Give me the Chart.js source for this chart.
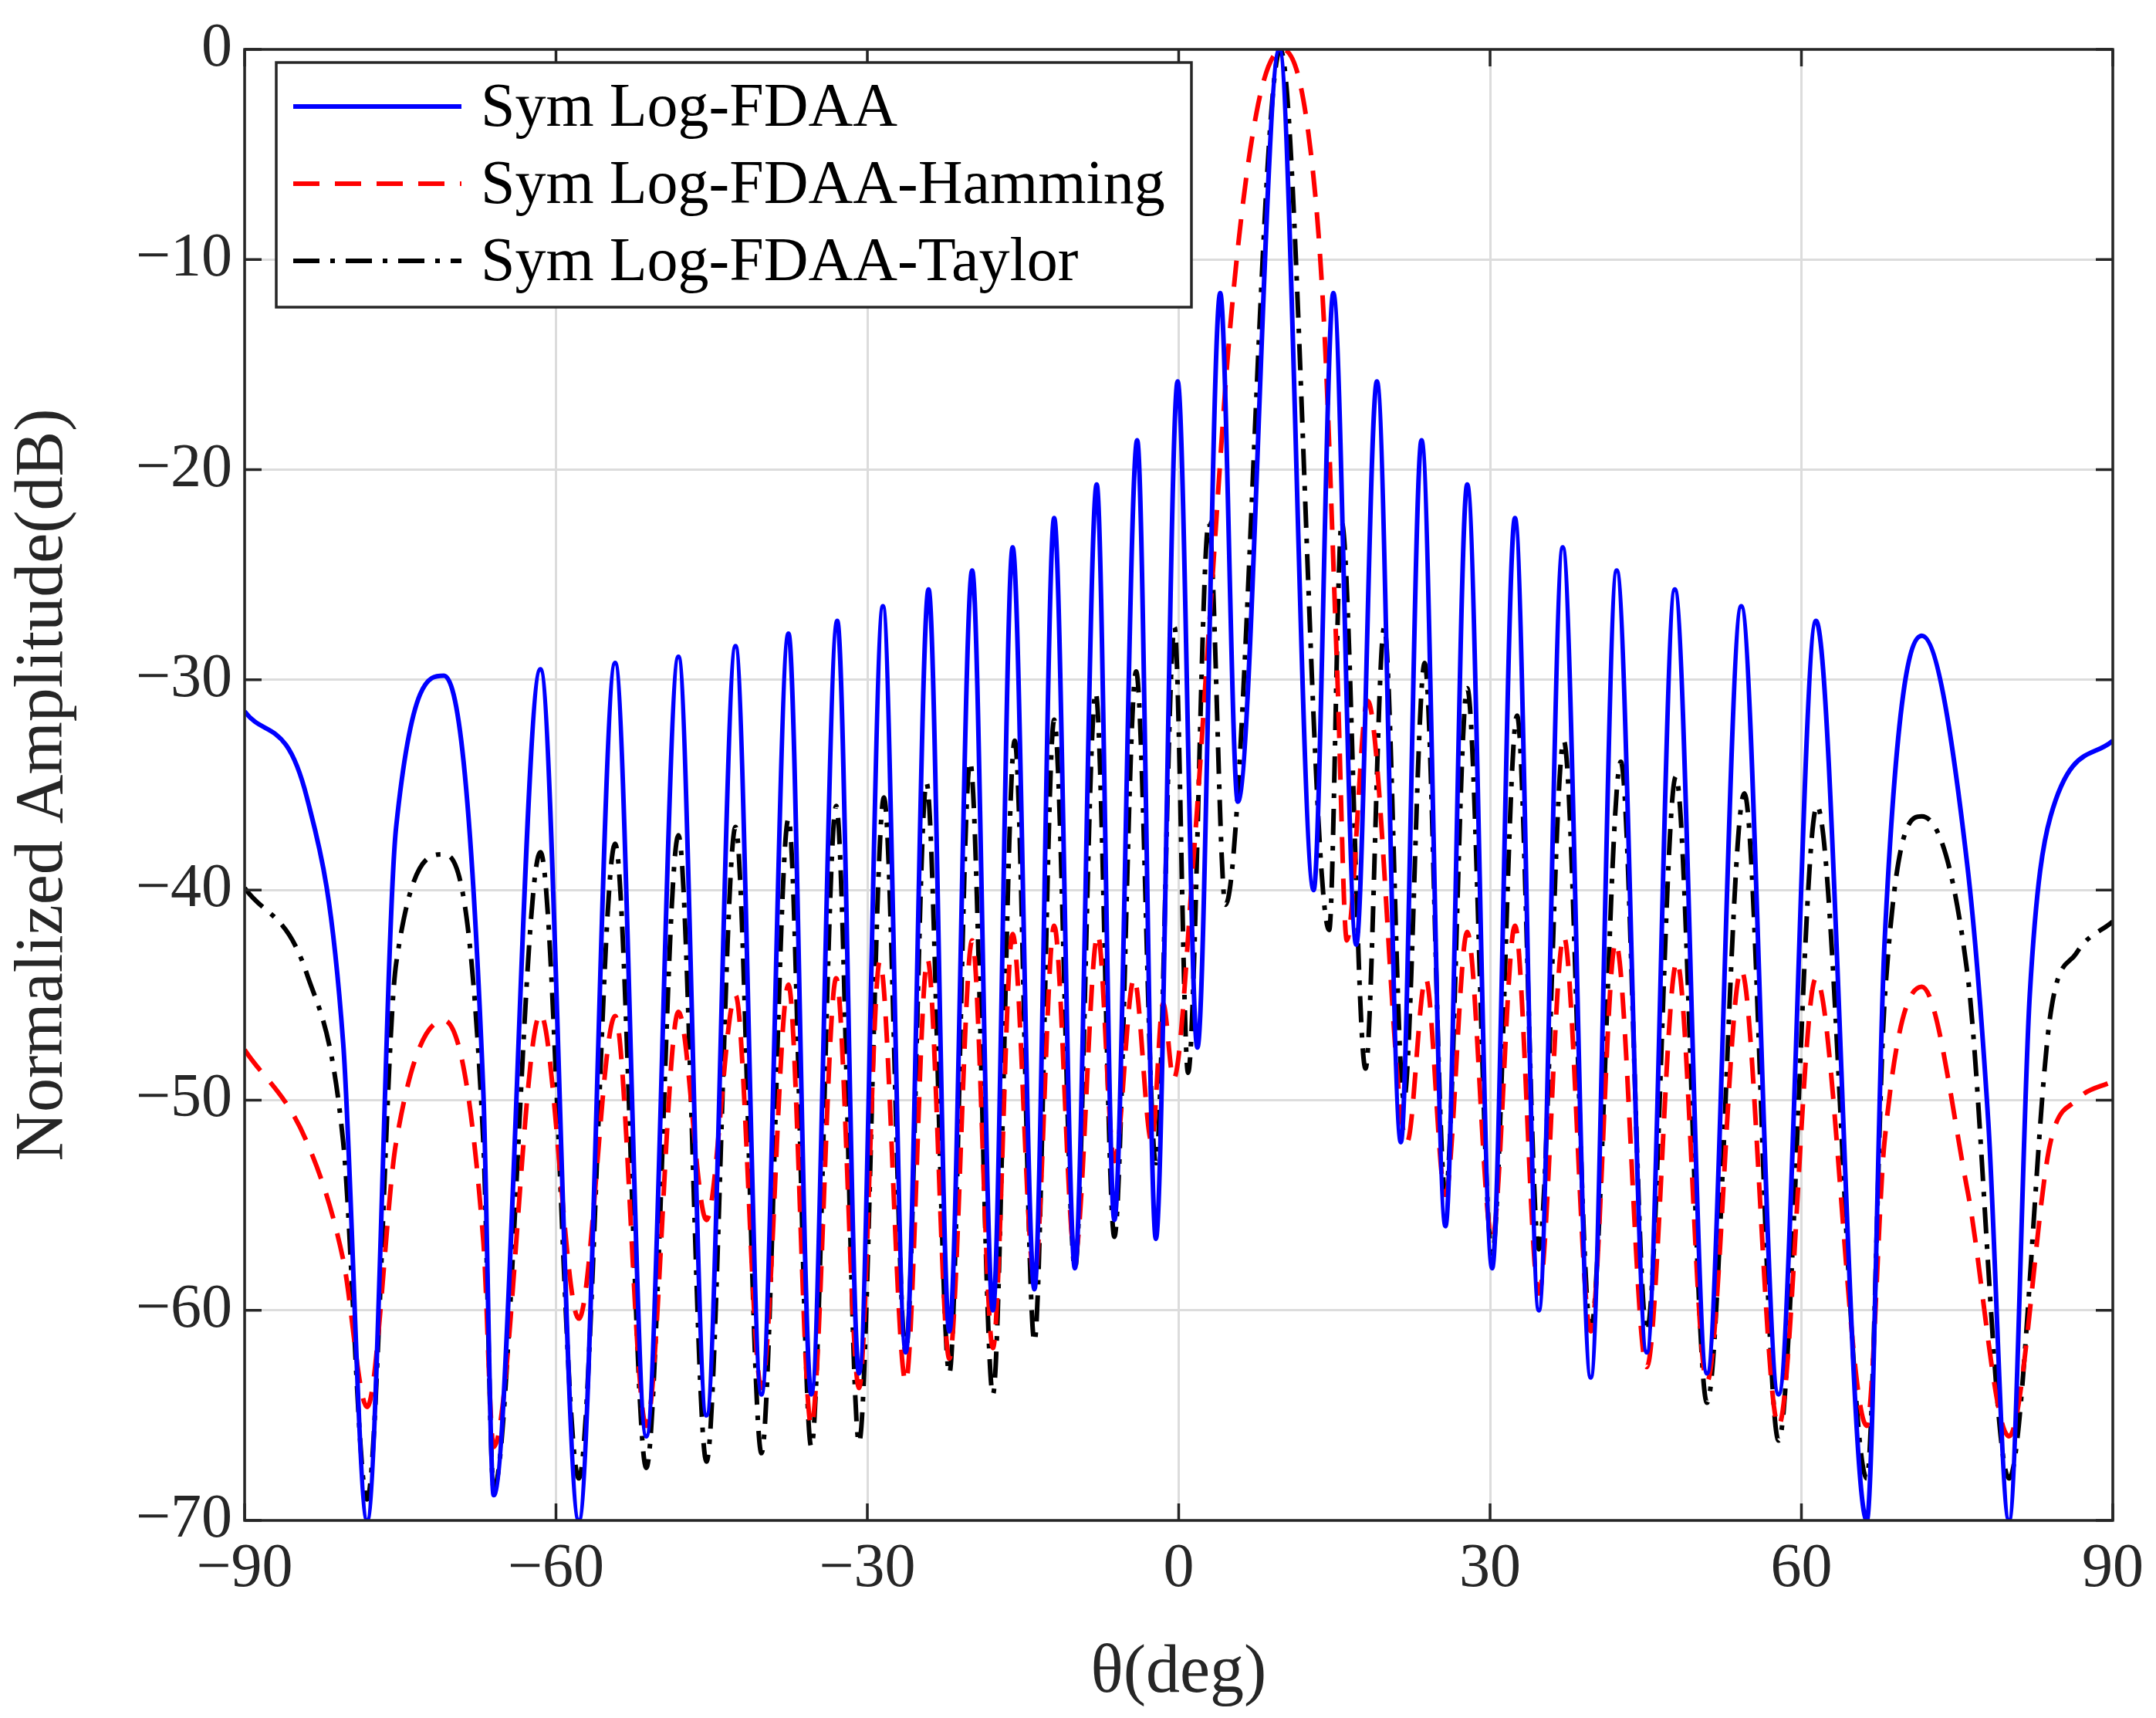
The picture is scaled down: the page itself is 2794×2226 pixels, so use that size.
<!DOCTYPE html>
<html>
<head>
<meta charset="utf-8">
<script src="https://cdn.jsdelivr.net/npm/chart.js@4"></script>
<style>
  body { margin: 0; background: #fff; }
  canvas { display: block; }
</style>
</head>
<body>
<canvas id="chart" width="2794" height="2226"></canvas>
<script>
// values (peaks, nulls and a few shoulders of each pattern)
const blueX = [-90,-84,-80.5,-78.2,-75.4,-70.8,-67,-66.0,-61.5,-57.8,-54.3,-51.3,-48.2,-45.5,-42.7,-40.2,-37.6,-35.4,-32.9,-30.8,-28.5,-26.3,-24.1,-22.1,-19.9,-17.9,-16.0,-13.9,-12.0,-10.0,-7.9,-6.2,-4.0,-2.2,-0.1,1.8,4.0,5.7,9.7,13.0,14.9,17.1,19.1,21.4,23.4,25.7,27.8,30.2,32.4,34.7,37.0,39.7,42.2,45.1,47.8,50.9,54.2,57.8,61.4,66.3,68,71.6,76,78,80,82,84,90];
const blueY = [-31.5,-35.6,-47.3,-70,-37,-29.8,-49.6,-68.8,-29.5,-70,-29.2,-66,-28.9,-65,-28.4,-64,-27.8,-64,-27.2,-63,-26.5,-62,-25.7,-61,-24.8,-60,-23.7,-59,-22.3,-58,-20.7,-55.7,-18.6,-56.6,-15.8,-47.5,-11.6,-35.8,0,-40,-11.6,-42.6,-15.8,-52,-18.6,-56,-20.7,-58,-22.3,-60,-23.7,-63.2,-24.8,-62,-25.7,-63,-26.5,-64,-27.2,-70,-42.6,-27.9,-38.9,-51,-70,-45,-36.5,-32.9];

const redX = [-90,-84,-80.5,-78.2,-75.4,-70.8,-67,-66,-61.5,-57.8,-54.3,-51.3,-48.2,-45.5,-42.7,-40.2,-37.6,-35.4,-33.0,-30.8,-28.8,-26.3,-24.2,-22.1,-19.9,-17.9,-16.0,-13.9,-12.0,-10.0,-7.8,-6.2,-4.3,-2.6,-1.5,-0.5,1.5,3,5,7.5,10,12.5,14,15.3,16.2,18.2,22.0,23.8,25.7,27.8,30.2,32.4,34.7,37.1,39.7,42.1,45.1,48.0,50.9,54.2,57.8,61.4,66.3,68,71.6,76,80,84,86.5,90];
const redY = [-47.6,-52,-57.6,-64.6,-52,-46.2,-56.7,-66.5,-45.9,-60.4,-46.0,-65.5,-45.8,-55.7,-45.0,-63.7,-44.5,-65.5,-44.2,-63.7,-43.4,-63.4,-43.3,-62.3,-42.4,-61.8,-42.1,-58.5,-41.7,-57.4,-42.1,-52.9,-44.2,-52,-45.4,-49,-38,-27,-13,-3,0,-4,-13,-30,-42.4,-31,-52,-44.2,-54.5,-42.0,-56.6,-41.7,-59.2,-42.2,-61,-42.5,-62.7,-43.4,-63.4,-43.8,-65.5,-44.2,-65.5,-52,-44.6,-54.3,-66,-52,-50,-49.1];

const blackX = [-90,-84,-80.5,-78.2,-75.4,-70.8,-67,-66,-61.5,-57.8,-54.3,-51.3,-48.2,-45.5,-42.7,-40.2,-37.6,-35.4,-33.0,-30.8,-28.4,-26.3,-24.3,-22.1,-20.1,-17.9,-15.8,-13.9,-12.0,-10.0,-8.0,-6.2,-4.1,-2.2,-0.4,0.9,2.9,4.5,9.8,14.5,15.7,18.0,19.8,21.7,23.7,25.7,27.8,30.2,32.6,34.7,37.1,39.7,42.6,45.1,47.9,50.9,54.5,57.8,61.5,66.3,68,71.6,76,80,84,86.5,90];
const blackY = [-39.9,-44,-52,-69,-43.5,-38.3,-52,-68.5,-38.2,-68,-37.8,-67.5,-37.4,-67.2,-37.0,-66.8,-36.6,-66.5,-36.0,-66.3,-35.6,-62,-34.9,-63,-33.9,-64,-32.9,-61.5,-31.9,-58,-30.6,-56.5,-29.6,-53,-27.5,-48.7,-22.5,-40.7,0,-41.9,-22.5,-48.5,-27.5,-50,-29.2,-54.5,-30.4,-57.3,-31.7,-57.1,-32.9,-60.9,-33.9,-61,-34.6,-64.4,-35.4,-66.2,-36.0,-68,-45.4,-36.5,-44,-68,-45.9,-43,-41.5];

const xTicks = [-90,-60,-30,0,30,60,90];
const yTicks = [0,-10,-20,-30,-40,-50,-60,-70];
const seriesNames = ["Sym Log-FDAA", "Sym Log-FDAA-Hamming", "Sym Log-FDAA-Taylor"];

const FONT = "'Liberation Serif', 'Times New Roman', serif";
const toPts = (xs, ys) => xs.map((x, i) => ({ x: x, y: ys[i] }));
const fixMinus = v => String(v).replace("-", "\u2212");

const styles = [
  { color: "#0000ff", dash: [] },
  { color: "#ff0000", dash: [34, 20] },
  { color: "#000000", dash: [34, 14, 6, 14] }
];

const frame = {
  id: "frame",
  afterDraw(chart) {
    const { ctx, chartArea: a, scales } = chart;
    ctx.save();
    ctx.strokeStyle = "#262626";
    ctx.lineWidth = 3.5;
    ctx.strokeRect(a.left, a.top, a.right - a.left, a.bottom - a.top);
    // inward ticks on all four sides
    const t = 22;
    ctx.beginPath();
    xTicks.forEach(v => {
      const px = scales.x.getPixelForValue(v);
      ctx.moveTo(px, a.bottom); ctx.lineTo(px, a.bottom - t);
      ctx.moveTo(px, a.top); ctx.lineTo(px, a.top + t);
    });
    yTicks.forEach(v => {
      const py = scales.y.getPixelForValue(v);
      ctx.moveTo(a.left, py); ctx.lineTo(a.left + t, py);
      ctx.moveTo(a.right, py); ctx.lineTo(a.right - t, py);
    });
    ctx.stroke();

    // legend box
    const lx = 358, ly = 81, lw = 1186, lh = 317;
    ctx.fillStyle = "#fff";
    ctx.fillRect(lx, ly, lw, lh);
    ctx.strokeStyle = "#262626";
    ctx.lineWidth = 3.5;
    ctx.strokeRect(lx, ly, lw, lh);
    ctx.font = "80px " + FONT;
    ctx.textBaseline = "middle";
    seriesNames.forEach((name, i) => {
      const y = ly + 57 + i * 100;
      ctx.strokeStyle = styles[i].color;
      ctx.lineWidth = 6;
      ctx.setLineDash(styles[i].dash);
      ctx.beginPath();
      ctx.moveTo(lx + 22, y); ctx.lineTo(lx + 240, y);
      ctx.stroke();
      ctx.setLineDash([]);
      ctx.fillStyle = "#000";
      ctx.fillText(name, lx + 265, y + 4);
    });
    ctx.restore();
  }
};

new Chart(document.getElementById("chart"), {
  type: "line",
  data: {
    datasets: [
      { label: seriesNames[0], data: toPts(blueX, blueY) },
      { label: seriesNames[1], data: toPts(redX, redY) },
      { label: seriesNames[2], data: toPts(blackX, blackY) }
    ].map((d, i) => Object.assign(d, {
      borderColor: styles[i].color,
      borderDash: styles[i].dash,
      borderWidth: 6,
      pointRadius: 0,
      fill: false,
      cubicInterpolationMode: "monotone"
    }))
  },
  options: {
    responsive: false,
    animation: false,
    devicePixelRatio: 1,
    layout: { padding: { top: 50, right: 45, left: 0, bottom: 0 } },
    plugins: { legend: { display: false }, tooltip: { enabled: false } },
    scales: {
      x: {
        type: "linear", min: -90, max: 90,
        afterBuildTicks: s => { s.ticks = xTicks.map(v => ({ value: v })); },
        afterFit: s => { s.height = 256; },
        grid: { color: "#dcdcdc", lineWidth: 3, drawTicks: false },
        border: { display: false },
        ticks: { color: "#262626", padding: 16, font: { family: FONT, size: 80 }, callback: fixMinus },
        title: { display: true, text: "\u03b8(deg)", color: "#262626", font: { family: FONT, size: 88 }, padding: { top: 0 } }
      },
      y: {
        type: "linear", min: -70, max: 0,
        afterBuildTicks: s => { s.ticks = yTicks.map(v => ({ value: v })); },
        afterFit: s => { s.width = 317; },
        grid: { color: "#dcdcdc", lineWidth: 3, drawTicks: false },
        border: { display: false },
        ticks: { color: "#262626", padding: 16, font: { family: FONT, size: 80 }, callback: fixMinus },
        title: { display: true, text: "Normalized Amplitude(dB)", color: "#262626", font: { family: FONT, size: 88 }, padding: { bottom: 6 } }
      }
    }
  },
  plugins: [frame]
});
</script>
</body>
</html>
